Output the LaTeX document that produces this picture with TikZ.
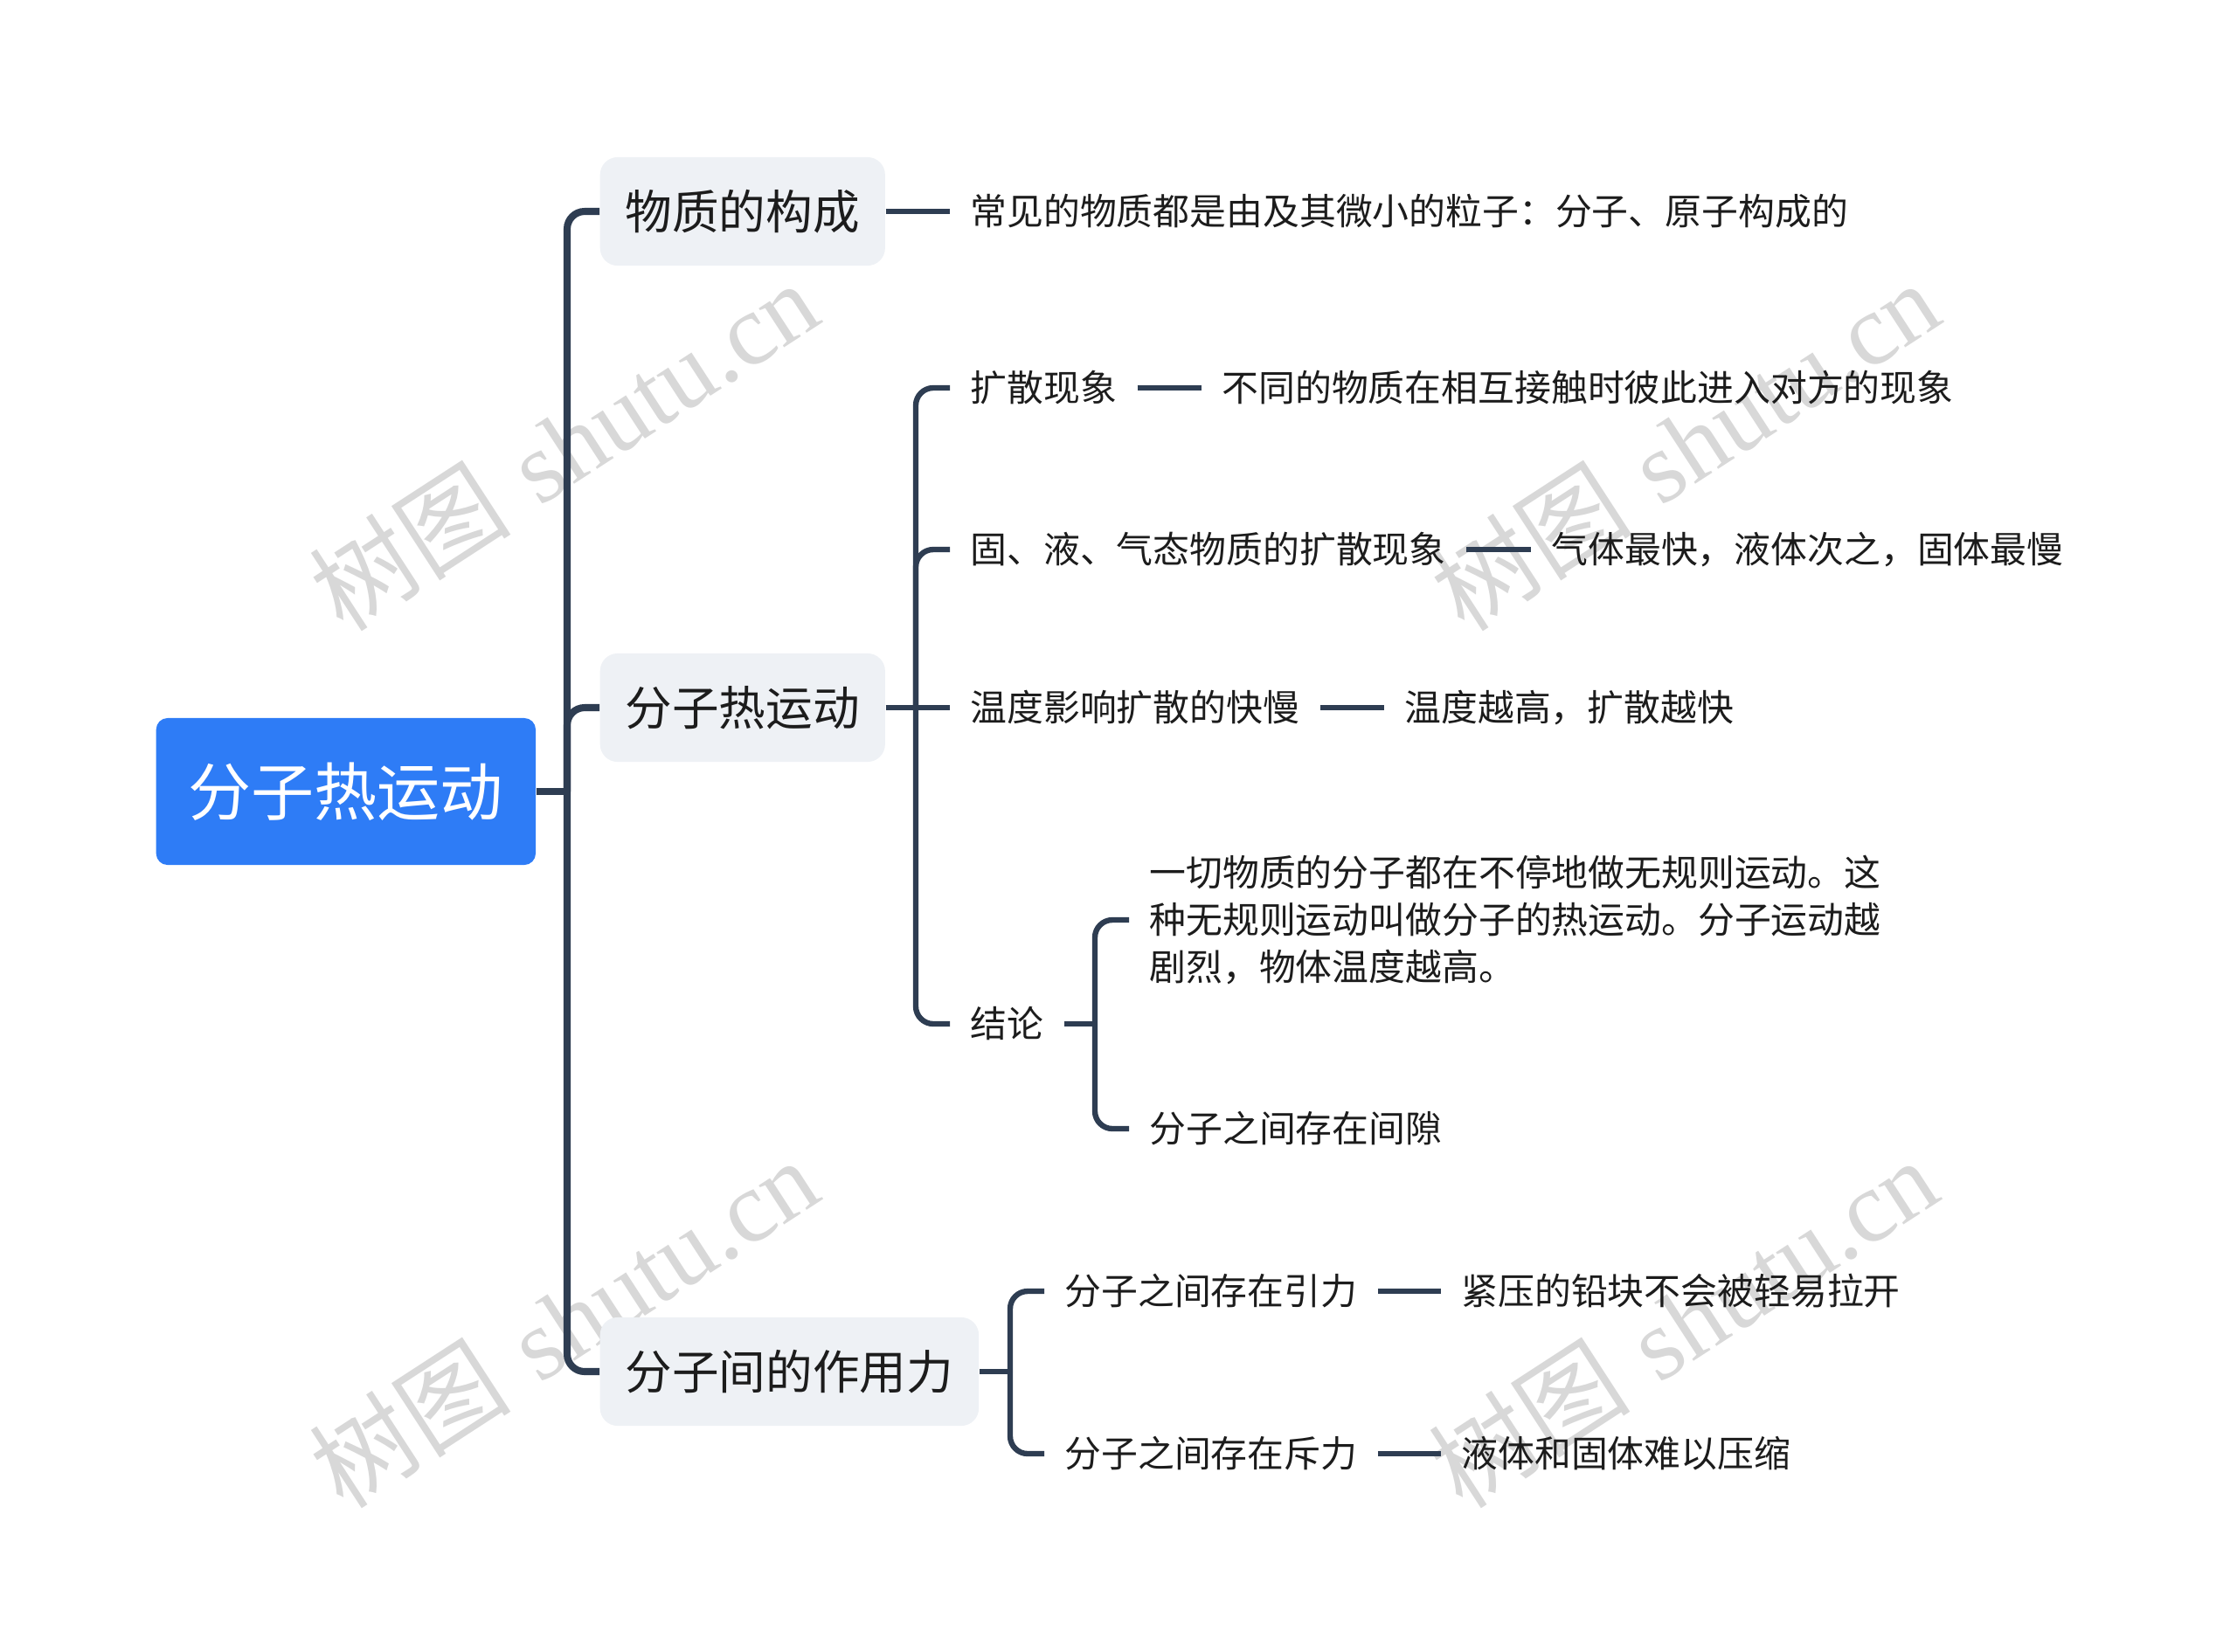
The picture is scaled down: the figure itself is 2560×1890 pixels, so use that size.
\documentclass[tikz,border=0pt]{standalone}
\usepackage{fontspec}
\newfontfamily\cjk{Noto Sans CJK SC}
\newfontfamily\wmserif{Liberation Serif}
\definecolor{rootblue}{HTML}{2E7CF6}
\definecolor{boxgray}{HTML}{EEF1F5}
\definecolor{linecol}{HTML}{2E3D52}
\definecolor{wmgray}{HTML}{D8D8D8}
\definecolor{txt}{HTML}{1C1C1C}
\begin{document}
\begin{tikzpicture}[x=0.01cm,y=-0.01cm,
 rootbox/.style={fill=rootblue, rounded corners=3.7pt, text=white, font=\cjk\fontsize{20.5}{24}\selectfont, inner xsep=10.5pt, inner ysep=0pt, minimum height=47.8pt, anchor=west},
 topicbox/.style={fill=boxgray, rounded corners=5.7pt, text=txt, font=\cjk\fontsize{15.25}{18}\selectfont, inner xsep=8.25pt, inner ysep=0pt, minimum height=35.3pt, anchor=west},
 leaf/.style={text=txt, font=\cjk\fontsize{11.9}{15.4}\selectfont, inner xsep=6.5pt, inner ysep=2pt, anchor=west},
 main/.style={draw=linecol, line width=2.3pt},
 sub/.style={draw=linecol, line width=1.8pt},
 rc/.style={rounded corners=5.7pt},
 wm/.style={text=wmgray, rotate=33, font=\fontsize{33}{40}\selectfont}
]
\useasboundingbox (0,0) rectangle (2560,1890);
% watermarks
\node[wm] (w1) at (645,510) {{\cjk 树图} {\wmserif shutu.cn}};
\node[wm] (w2) at (1928,510) {{\cjk 树图} {\wmserif shutu.cn}};
\node[wm] (w3) at (645,1514) {{\cjk 树图} {\wmserif shutu.cn}};
\node[wm] (w4) at (1926,1514) {{\cjk 树图} {\wmserif shutu.cn}};
% nodes
\node[rootbox] (root) at (178,906) {分子热运动};
\coordinate (j1) at (649,906);
\node[topicbox] (p1) at (686,242) {物质的构成};
\node[topicbox] (p2) at (686,810) {分子热运动};
\node[topicbox] (p3) at (686,1570) {分子间的作用力};
\node[leaf] (a1) at (1087,242) {常见的物质都是由及其微小的粒子：分子、原子构成的};
\coordinate (j2) at (1048,810);
\node[leaf] (b1) at (1087,444) {扩散现象};
\node[leaf] (b1d) at (1375,444) {不同的物质在相互接触时彼此进入对方的现象};
\node[leaf] (b2) at (1087,629) {固、液、气态物质的扩散现象};
\node[leaf] (b2d) at (1752,629) {气体最快，液体次之，固体最慢};
\node[leaf] (b3) at (1087,810) {温度影响扩散的快慢};
\node[leaf] (b3d) at (1584,810) {温度越高，扩散越快};
\node[leaf] (b4) at (1087,1172) {结论};
\coordinate (j4) at (1253,1172);
\node[leaf, align=left] (b4a) at (1292,1053) {一切物质的分子都在不停地做无规则运动。这\\种无规则运动叫做分子的热运动。分子运动越\\剧烈，物体温度越高。};
\node[leaf] (b4b) at (1292,1292) {分子之间存在间隙};
\coordinate (j3) at (1156,1570);
\node[leaf] (c1) at (1195,1478) {分子之间存在引力};
\node[leaf] (c1d) at (1649,1478) {紧压的铅块不会被轻易拉开};
\node[leaf] (c2) at (1195,1664) {分子之间存在斥力};
\node[leaf] (c2d) at (1649,1664) {液体和固体难以压缩};
% connectors
\draw[main] (root.east) -- (j1);
\draw[main,rc] (j1) |- (p1.west);
\draw[main,rc] (j1) |- (p2.west);
\draw[main,rc] (j1) |- (p3.west);
\draw[sub] (p1.east) -- (a1.west);
\draw[sub] (p2.east) -- (j2);
\draw[sub,rc] (j2) |- (b1.west);
\draw[sub,rc] (j2) |- (b2.west);
\draw[sub] (j2) -- (b3.west);
\draw[sub,rc] (j2) |- (b4.west);
\draw[sub] (b1.east) -- (b1d.west);
\draw[sub] (b2.east) -- (b2d.west);
\draw[sub] (b3.east) -- (b3d.west);
\draw[sub] (b4.east) -- (j4);
\draw[sub,rc] (j4) |- (b4a.west);
\draw[sub,rc] (j4) |- (b4b.west);
\draw[sub] (p3.east) -- (j3);
\draw[sub,rc] (j3) |- (c1.west);
\draw[sub,rc] (j3) |- (c2.west);
\draw[sub] (c1.east) -- (c1d.west);
\draw[sub] (c2.east) -- (c2d.west);
\end{tikzpicture}
\end{document}
